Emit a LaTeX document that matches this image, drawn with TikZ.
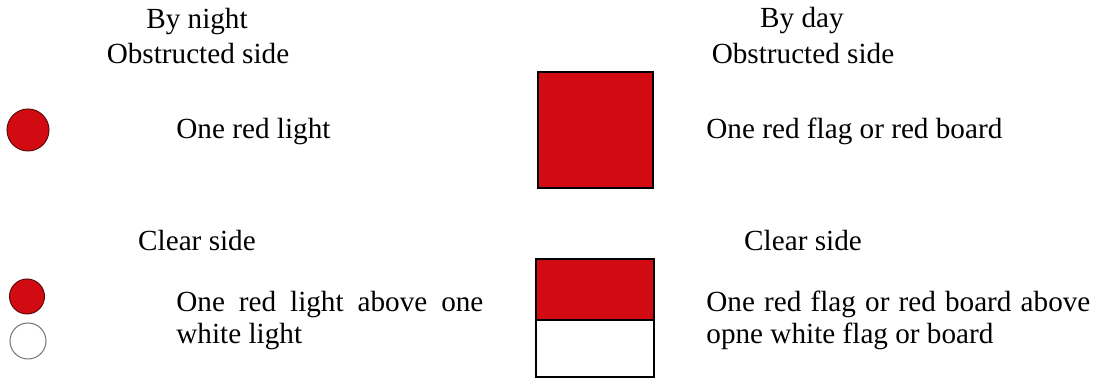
\documentclass[tikz,border=0pt]{standalone}
\usepackage{fontspec}
\setmainfont{Liberation Serif}
\usepackage{tikz}
\usetikzlibrary{positioning}
\definecolor{signalred}{RGB}{210,10,17}
\definecolor{rimred}{RGB}{95,10,12}

\begin{document}
\begin{tikzpicture}[x=0.5pt,y=-0.5pt,
  font=\fontsize{14.6}{16}\selectfont,
  lbl/.style={inner sep=0pt, anchor=base},
  desc/.style={inner sep=0pt, anchor=base west},
  para/.style={desc, align=justify},
  lamp/.style={circle, inner sep=0pt, line width=0.5pt},
  redlamp/.style={lamp, fill=signalred, draw=rimred},
  whitelamp/.style={lamp, fill=white, draw=black!55},
  flag/.style={rectangle, inner sep=0pt, line width=1pt, draw=black},
  redflag/.style={flag, fill=signalred}]
\useasboundingbox (0,0) rectangle (1106,383);
% headings
\node[lbl] (night) at (197,29) {By night};
\node[lbl] (nobs) at (198,64) {Obstructed side};
\node[lbl] (nclear) at (197,251) {Clear side};
\node[lbl] (day) at (802,28) {By day};
\node[lbl] (dobs) at (803,64) {Obstructed side};
\node[lbl] (dclear) at (803,251) {Clear side};
% night signals
\node[redlamp, minimum size=21pt] (lamp1) at (28,130) {};
\node[redlamp, minimum size=17.5pt] (lamp2) at (27,296.5) {};
\node[whitelamp, minimum size=18pt] (lamp3) at (28,341) {};
\node[desc] (ntxt1) at (176,139) {One red light};
\node[para, text width=153.5pt] (ntxt2) at (176,312) {One red light above one white light};
% day signals
\node[redflag, minimum width=57.5pt, minimum height=58pt] (flag1) at (595.5,130) {};
\node[redflag, minimum width=59pt, minimum height=30.5pt] (flag2) at (595,289.5) {};
\node[flag, fill=white, minimum width=59pt, minimum height=28.5pt, below=-1pt of flag2] (flag3) {};
\node[desc] (dtxt1) at (706,139) {One red flag or red board};
\node[para, text width=192pt] (dtxt2) at (706,312) {One red flag or red board above opne white flag or board};
\end{tikzpicture}
\end{document}
